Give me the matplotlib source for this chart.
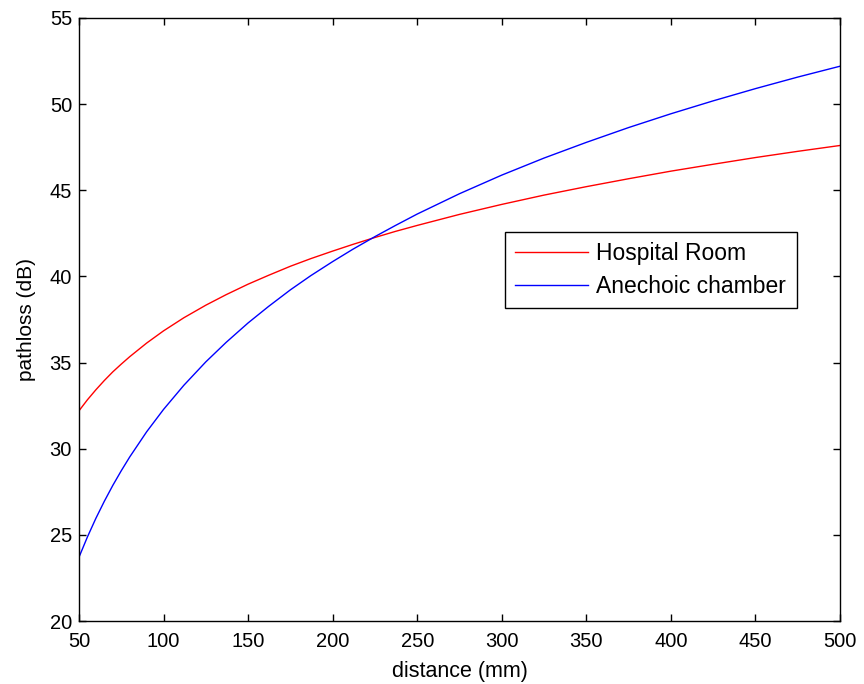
import matplotlib
matplotlib.use("Agg")
import matplotlib.pyplot as plt

plt.rcParams['font.family'] = ['Liberation Sans', 'DejaVu Sans']

distance = [50, 55, 60, 65, 70, 75, 80, 90, 100, 112, 125, 137, 150, 162, 175, 187, 200, 212, 225,
            237, 250, 275, 300, 325, 350, 375, 400, 425, 450, 475, 500]
hospital = [32.2, 32.84, 33.42, 33.96, 34.46, 34.91, 35.34, 36.13, 36.84, 37.60, 38.33, 38.94, 39.55,
            40.06, 40.59, 41.03, 41.47, 41.86, 42.26, 42.61, 42.96, 43.60, 44.18, 44.72, 45.21, 45.67,
            46.11, 46.51, 46.90, 47.26, 47.60]
anechoic = [23.7, 24.88, 25.96, 26.95, 27.87, 28.72, 29.52, 30.98, 32.28, 33.68, 35.04, 36.17, 37.30,
            38.25, 39.22, 40.04, 40.86, 41.58, 42.31, 42.95, 43.62, 44.80, 45.88, 46.87, 47.78, 48.64,
            49.44, 50.19, 50.90, 51.57, 52.20]

xticks = [50, 100, 150, 200, 250, 300, 350, 400, 450, 500]
yticks = [20, 25, 30, 35, 40, 45, 50, 55]

fig = plt.figure(figsize=(8.64, 6.84), dpi=100)
ax = fig.add_axes([0.0914, 0.0921, 0.8808, 0.8816])
ax.plot(distance, hospital, color='#ff0000', lw=1.0, label='Hospital Room')
ax.plot(distance, anechoic, color='#0000ff', lw=1.0, label='Anechoic chamber')
ax.set_xlim(50, 500)
ax.set_ylim(20, 55)
ax.set_xticks(xticks)
ax.set_yticks(yticks)
ax.tick_params(direction='in', top=True, right=True, labelsize=14.5, length=5, width=1)
ax.tick_params(axis='x', pad=8)
ax.tick_params(axis='y', pad=5)
for s in ax.spines.values():
    s.set_linewidth(1.0)
ax.set_xlabel('distance (mm)', fontsize=15.5, labelpad=7)
ax.set_ylabel('pathloss (dB)', fontsize=15, labelpad=10)
leg = ax.legend(loc='upper right', bbox_to_anchor=(0.943, 0.645), fontsize=16.5,
                frameon=True, fancybox=False, edgecolor='black', framealpha=1,
                borderaxespad=0, handlelength=3.2, handletextpad=0.35,
                borderpad=0.45, labelspacing=0.4)
leg.get_frame().set_linewidth(1.0)
fig.savefig('out.png', dpi=100)
